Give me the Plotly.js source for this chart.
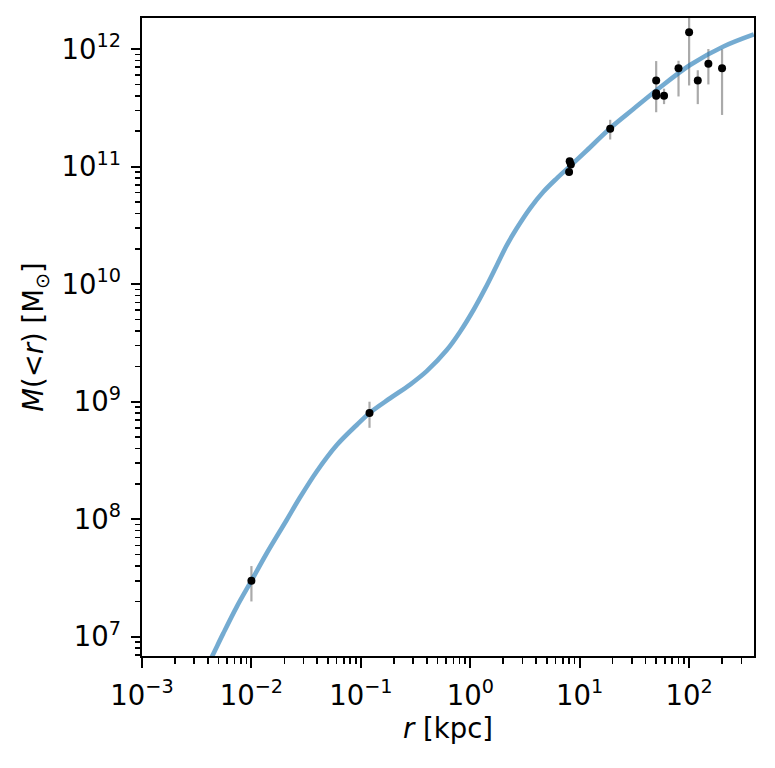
<!DOCTYPE html>
<html>
<head>
<meta charset="utf-8">
<script src="https://cdn.plot.ly/plotly-3.0.1.min.js"></script>
<style>
  body { margin: 0; background: white; }
  #myGraph { width: 775px; height: 768px; }
</style>
</head>
<body>
<div id="myGraph"></div>
<script>
// model curve
let curveR = [0.004, 0.00443, 0.00553, 0.00734, 0.0101, 0.0138, 0.0210, 0.0274, 0.0395, 0.0603,
    0.0917, 0.121, 0.185, 0.282, 0.400, 0.610, 0.807, 1.07, 1.37, 1.75,
    2.16, 2.66, 3.52, 4.66, 6.18, 8.17, 11.6, 19.0, 31.0, 50.7,
    102, 206, 390];
let curveM = [5.8e6, 7.0e6, 1.07e7, 1.80e7, 3.05e7, 5.14e7, 9.86e7, 1.50e8, 2.55e8, 4.28e8,
    6.34e8, 8.07e8, 1.07e9, 1.40e9, 1.82e9, 2.75e9, 3.94e9, 6.03e9, 9.2e9, 1.45e10,
    2.15e10, 2.99e10, 4.42e10, 6.11e10, 7.95e10, 1.01e11, 1.37e11, 2.12e11, 3.09e11, 4.48e11,
    7.31e11, 1.05e12, 1.33e12];

// measurements
let obsR = [0.01, 0.12, 8.1, 8.3, 8.0, 19, 50, 50, 50, 59, 80, 100, 120, 150, 200];
let obsM = [3.0e7, 8.0e8, 1.11e11, 1.04e11, 9.0e10, 2.1e11, 5.4e11, 4.2e11, 4.0e11, 4.0e11,
    6.85e11, 1.39e12, 5.4e11, 7.5e11, 6.85e11];
let errPlus = [1.0e7, 2.0e8, 0, 0, 0, 0.4e11, 2.5e11, 0.3e11, 0.3e11, 0.6e11,
    1.1e11, 0.9e12, 1.2e11, 2.5e11, 3.1e11];
let errMinus = [1.0e7, 2.0e8, 0, 0, 0, 0.4e11, 2.5e11, 0.3e11, 0.3e11, 0.6e11,
    2.9e11, 0.9e12, 2.0e11, 2.5e11, 4.1e11];

// tick labels
let xTicks = [0.001, 0.01, 0.1, 1, 10, 100];
let xLabels = ['10<sup>−3</sup>', '10<sup>−2</sup>', '10<sup>−1</sup>', '10<sup>0</sup>', '10<sup>1</sup>', '10<sup>2</sup>'];
let yTicks = [1e7, 1e8, 1e9, 1e10, 1e11, 1e12];
let yLabels = ['10<sup>7</sup>', '10<sup>8</sup>', '10<sup>9</sup>', '10<sup>10</sup>', '10<sup>11</sup>', '10<sup>12</sup>'];

let bars = {
    type: 'scatter',
    mode: 'markers',
    x: obsR,
    y: obsM,
    marker: { size: 1, color: 'rgba(0,0,0,0)' },
    error_y: {
        type: 'data',
        symmetric: false,
        array: errPlus,
        arrayminus: errMinus,
        color: '#aaaaaa',
        thickness: 2.2,
        width: 0
    },
    hoverinfo: 'skip',
    showlegend: false
};

let model = {
    type: 'scatter',
    mode: 'lines',
    x: curveR,
    y: curveM,
    line: { color: 'rgba(31,119,180,0.62)', width: 4.6, shape: 'spline', smoothing: 1 },
    showlegend: false
};

let points = {
    type: 'scatter',
    mode: 'markers',
    x: obsR,
    y: obsM,
    marker: { size: 8, color: 'black' },
    showlegend: false
};

function font(size) {
    return { family: 'DejaVu Sans', size: size, color: 'black' };
}

function logAxis(range, vals, labels, title, standoff) {
    return {
        type: 'log',
        range: range,
        tickmode: 'array',
        tickvals: vals,
        ticktext: labels,
        showgrid: false,
        zeroline: false,
        showline: true,
        mirror: true,
        linecolor: 'black',
        linewidth: 2,
        ticks: 'outside',
        ticklen: 9.5,
        tickwidth: 2,
        tickcolor: 'black',
        tickfont: font(27.5),
        ticklabelstandoff: 4,
        minor: { ticks: 'outside', ticklen: 5.5, tickwidth: 1.6, tickcolor: 'black', dtick: 'D1', showgrid: false },
        title: { text: title, font: font(27.5), standoff: standoff }
    };
}

let layout = {
    width: 775,
    height: 768,
    margin: { l: 142, r: 21, t: 18, b: 112 },
    paper_bgcolor: 'white',
    plot_bgcolor: 'white',
    font: font(27.5),
    xaxis: logAxis([-3, 2.593], xTicks, xLabels, '<i>r</i> [kpc]', 9),
    yaxis: logAxis([6.837, 12.264], yTicks, yLabels, '<i>M</i>(&lt;<i>r</i>) [M<sub>⊙</sub>]', 10)
};

Plotly.newPlot('myGraph', [bars, model, points], layout, { displayModeBar: false, staticPlot: true });
</script>
</body>
</html>
